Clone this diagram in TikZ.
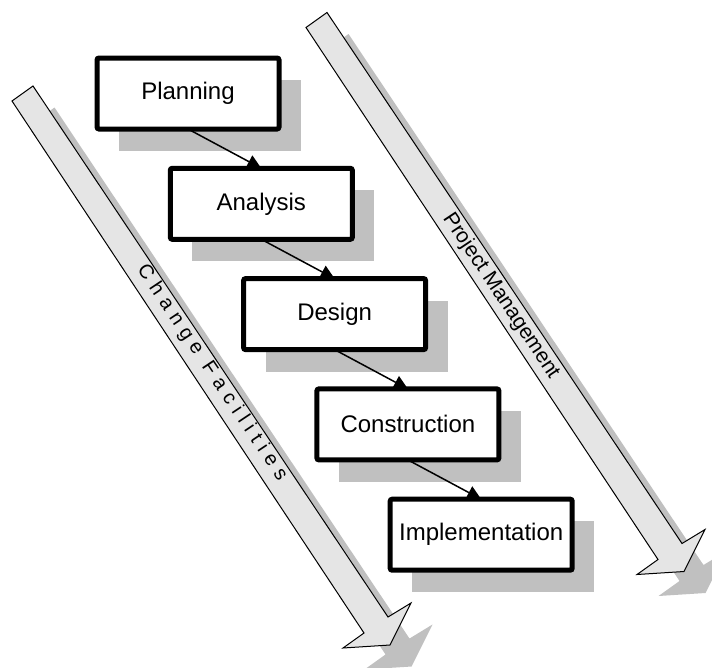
\documentclass[tikz,border=0pt]{standalone}
\usepackage{fontspec}
\setmainfont{Liberation Sans}
\usetikzlibrary{arrows.meta}
\definecolor{bandgray}{RGB}{229,229,229}
\definecolor{shadowgray}{RGB}{192,192,192}
\pgfdeclarelayer{back}
\pgfsetlayers{back,main}

\begin{document}
\begin{tikzpicture}[x=1pt,y=-1pt,
  stage/.style={draw,line width=5pt,rounded corners=2pt,fill=white,outer sep=0pt,inner sep=0pt,
    minimum width=182pt,minimum height=71pt,font=\fontsize{24}{28}\selectfont},
  flow/.style={line width=1.5pt,-{Triangle[length=14pt,width=14pt]}},
  band/.style={draw=black,line width=1pt,fill=bandgray},
  bandlabel/.style={rotate=-56.3,inner sep=0pt,font=\fontsize{20}{24}\selectfont}]

\useasboundingbox (0,0) rectangle (712,667);

\node[stage] (plan) at (188,93.5) {Planning};
\node[stage] (anal) at (261.3,203.8) {Analysis};
\node[stage] (des) at (334.6,314.1) {Design};
\node[stage] (cons) at (407.9,424.4) {Construction};
\node[stage] (impl) at (481.2,534.7) {Implementation};

\begin{pgfonlayer}{back}
%side arrows
\foreach \dx/\dy in {0/0,294/-73.5}{
\begin{scope}[shift={(\dx,\dy)}]
\fill[shadowgray,shift={(21.5,21.5)}] (12,101) -- (33,86) -- (388,617) -- (411,603) -- (390,645) -- (343,648) -- (364,633) -- cycle;
\draw[band] (12,101) -- (33,86) -- (388,617) -- (411,603) -- (390,645) -- (343,648) -- (364,633) -- cycle;
\end{scope}}
\node[bandlabel] (cf) at (212,373) {\addfontfeature{LetterSpace=34}Change Facilities};
\node[bandlabel,font=\fontsize{21}{25}\selectfont] (pm) at (501,296) {Project Management};
%shadows and flow
\foreach \n in {plan,anal,des,cons,impl}{
\fill[shadowgray] ([shift={(22,22)}]\n.south west) rectangle ([shift={(22,22)}]\n.north east);}
\foreach \a/\b in {plan/anal,anal/des,des/cons,cons/impl}{
\draw[flow] (\a.south) -- (\b.north);}
\end{pgfonlayer}

\end{tikzpicture}
\end{document}
